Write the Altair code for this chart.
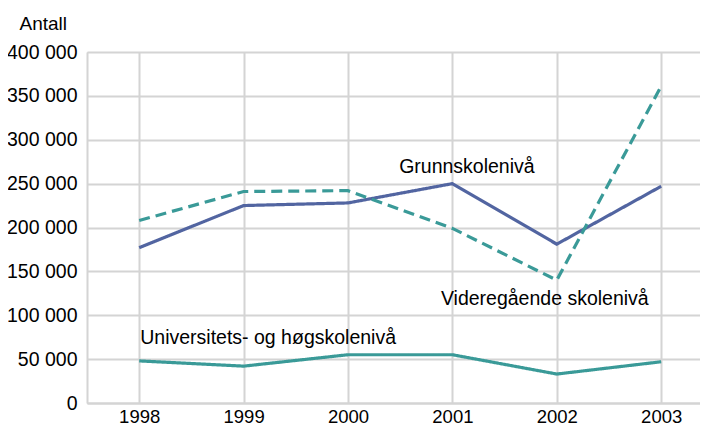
import altair as alt
import pandas as pd

years = [1998, 1999, 2000, 2001, 2002, 2003]
grunnskole = [177000, 225000, 228000, 250000, 181000, 247000]
videregaende = [208000, 241000, 242000, 199000, 140000, 361000]
universitet = [48000, 42000, 55000, 55000, 33000, 47000]

series_names = ["Grunnskolenivå", "Videregående skolenivå", "Universitets- og høgskolenivå"]
series_colors = ["#5265a1", "#3a9a98", "#3a9a98"]
series_dash = [[1, 0], [11, 6], [1, 0]]

y_ticks = [0, 50000, 100000, 150000, 200000, 250000, 300000, 350000, 400000]

# label annotations (text anchor in data units)
label_text = series_names
label_x = [2000.49, 2000.89, 1998.01]
label_y = [262000, 111500, 67600]

rows = []
for name, vals in zip(series_names, [grunnskole, videregaende, universitet]):
    for yr, v in zip(years, vals):
        rows.append({"year": yr, "value": v, "series": name})
df = pd.DataFrame(rows)
labels = pd.DataFrame({"text": label_text, "x": label_x, "y": label_y})

FONT = "Liberation Sans"

xscale = alt.Scale(domain=[1997.5, 2003.372], nice=False, zero=False)
yscale = alt.Scale(domain=[0, 400000], nice=False)

lines = alt.Chart(df).mark_line(strokeWidth=3.2, strokeCap="butt", clip=True).encode(
    x=alt.X("year:Q", scale=xscale,
            axis=alt.Axis(values=years, format="d", title=None, grid=True,
                          gridColor="#d4d4d4", gridWidth=2, ticks=False,
                          domainColor="#d4d4d4", domainWidth=2,
                          labelFont=FONT, labelFontSize=18.5, labelColor="#000000",
                          labelPadding=4)),
    y=alt.Y("value:Q", scale=yscale,
            axis=alt.Axis(values=y_ticks, title="Antall", grid=True,
                          gridColor="#d4d4d4", gridWidth=2, ticks=False,
                          domainColor="#d4d4d4", domainWidth=2,
                          labelExpr="replace(format(datum.value, ','), ',', ' ')",
                          labelFont=FONT, labelFontSize=19.5, labelColor="#000000",
                          labelPadding=10,
                          titleAngle=0, titleAlign="left", titleBaseline="alphabetic",
                          titleX=-68, titleY=-23, titleFont=FONT, titleFontSize=19,
                          titleFontWeight="normal", titleColor="#000000")),
    color=alt.Color("series:N", scale=alt.Scale(domain=series_names, range=series_colors), legend=None),
    strokeDash=alt.StrokeDash("series:N", scale=alt.Scale(domain=series_names, range=series_dash), legend=None),
    detail="series:N",
)

texts = alt.Chart(labels).mark_text(align="left", baseline="alphabetic", font=FONT,
                                     fontSize=19.5, color="#000000").encode(
    x=alt.X("x:Q", scale=xscale),
    y=alt.Y("y:Q", scale=yscale),
    text="text:N",
)

chart = alt.layer(lines, texts).properties(
    width=613, height=351,
    padding={"left": 79, "top": 44, "right": 0, "bottom": 24},
    autosize=alt.AutoSizeParams(type="none"),
).configure_view(stroke=None).configure(background="#ffffff")

chart.save("out.html", embed_options={"renderer": "svg", "actions": False})
